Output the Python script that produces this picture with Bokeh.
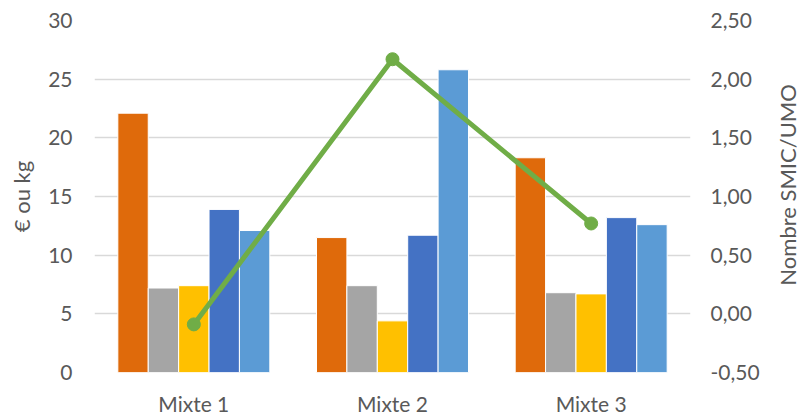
import math
from bokeh.plotting import figure
from bokeh.layouts import row
from bokeh.models import Range1d, LinearAxis, FixedTicker, FactorRange, ColumnDataSource
from bokeh.core.properties import value
from bokeh.transform import dodge
from bokeh.embed import file_html
from bokeh.resources import INLINE

categories = ["Mixte 1", "Mixte 2", "Mixte 3"]
serie_1 = [22.1, 11.5, 18.3]
serie_2 = [7.2, 7.4, 6.8]
serie_3 = [7.4, 4.4, 6.7]
serie_4 = [13.9, 11.7, 13.2]
serie_5 = [12.1, 25.8, 12.6]
smic_umo = [-0.09, 2.17, 0.77]

left_ticks = [0, 5, 10, 15, 20, 25, 30]
right_ticks = [-0.5, 0.0, 0.5, 1.0, 1.5, 2.0, 2.5]
right_tick_labels = ["-0,50", "0,00", "0,50", "1,00", "1,50", "2,00", "2,50"]

left_label = "€ ou kg"
right_label = "Nombre SMIC/UMO"

FONT = "Lato"
TXT = "#595959"
FS = "21px"
LFS = "22px"

source = ColumnDataSource(dict(cat=categories, s1=serie_1, s2=serie_2, s3=serie_3,
                               s4=serie_4, s5=serie_5, line=smic_umo))

p = figure(x_range=FactorRange(*categories), y_range=Range1d(0, 30),
           width=772, height=418, output_backend="svg", toolbar_location=None,
           min_border_left=94, min_border_right=82, min_border_top=20, min_border_bottom=46)
p.extra_y_ranges = {"right": Range1d(-0.5, 2.5)}

bw = 0.153
cols = ["#DF6A0B", "#A5A5A5", "#FFC000", "#4472C4", "#5B9BD5"]
keys = ["s1", "s2", "s3", "s4", "s5"]
for i, (k, c) in enumerate(zip(keys, cols)):
    p.vbar(x=dodge("cat", (i - 2) * bw, range=p.x_range), top=k, width=bw,
           source=source, fill_color=c, line_color="white", line_width=1)

p.line(x="cat", y="line", source=source, y_range_name="right",
       line_color="#70AD47", line_width=5)
p.scatter(x="cat", y="line", source=source, y_range_name="right",
          size=13, fill_color="#70AD47", line_color="#70AD47")

p.outline_line_color = None
p.xgrid.visible = False
p.ygrid.ticker = FixedTicker(ticks=left_ticks)
p.ygrid.grid_line_color = "#D9D9D9"
p.ygrid.grid_line_width = 1.5

ya = p.yaxis[0]
ya.ticker = FixedTicker(ticks=left_ticks)
ya.axis_label = left_label

ra = LinearAxis(y_range_name="right", ticker=FixedTicker(ticks=right_ticks),
                major_label_overrides=dict(zip(right_ticks, right_tick_labels)))
p.add_layout(ra, "right")

for ax in [ya, ra, p.xaxis[0]]:
    ax.axis_line_color = None
    ax.major_tick_line_color = None
    ax.minor_tick_line_color = None
    ax.major_label_text_font = FONT
    ax.major_label_text_font_size = FS
    ax.major_label_text_color = TXT
    ax.axis_label_text_font = FONT
    ax.axis_label_text_font_size = LFS
    ax.axis_label_text_color = TXT
    ax.axis_label_text_font_style = "normal"

ya.major_label_standoff = 16
ra.major_label_standoff = 14
ya.axis_label_standoff = 10
p.xaxis[0].major_label_standoff = 12

# side strip carrying the right axis title (reads bottom to top)
p2 = figure(width=30, height=418, x_range=Range1d(0, 1), y_range=Range1d(0, 1),
            output_backend="svg", toolbar_location=None, min_border=0)
p2.axis.visible = False
p2.grid.visible = False
p2.outline_line_color = None
p2.text(x=[0.5], y=[0.533], text=[right_label], angle=math.pi / 2,
        text_align="center", text_baseline="middle",
        text_font=value(FONT), text_font_size=LFS, text_color=TXT)

layout = row(p, p2)
open("out.html", "w").write(file_html(layout, INLINE))
